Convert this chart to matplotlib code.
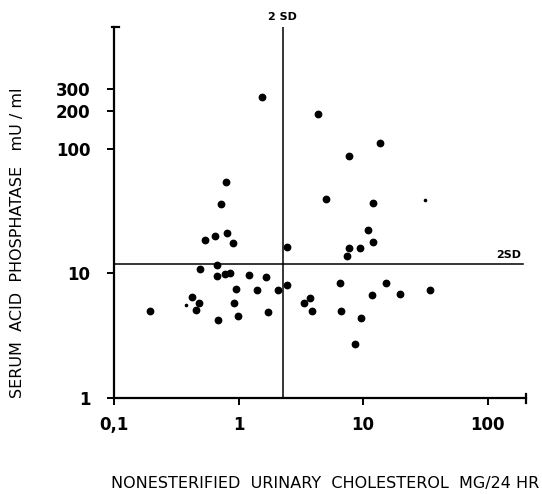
import matplotlib
matplotlib.use("Agg")
import matplotlib.pyplot as plt
from matplotlib.ticker import FixedLocator, FixedFormatter, NullLocator

# nonesterified urinary cholesterol (mg/24 hr) vs serum acid phosphatase (mU/ml)
chol = [0.195, 0.42, 0.484, 0.453, 0.49, 0.537, 0.643, 0.677, 0.675, 0.778,
        0.861, 0.684, 0.792, 0.729, 0.807, 0.91, 0.918, 0.953, 0.989, 1.21,
        1.41, 1.66, 1.72, 2.09, 1.53, 2.43, 2.43, 3.33, 3.74, 3.88,
        4.36, 5.06, 6.51, 6.67, 7.37, 7.65, 7.74, 8.65, 9.42, 9.6,
        10.9, 11.7, 12.05, 12.05, 13.6, 15.3, 19.9, 34.4]
acp = [5.01, 6.4, 5.78, 5.08, 10.8, 18.5, 20.0, 11.7, 9.46, 9.87,
       10.05, 4.2, 53.7, 36.2, 21.0, 17.5, 5.78, 7.48, 4.52, 9.64,
       7.3, 9.29, 4.92, 7.41, 258, 16.2, 8.03, 5.75, 6.3, 5.01,
       189, 39.8, 8.41, 4.99, 13.7, 87.3, 16.0, 2.73, 15.96, 4.38,
       22.2, 6.66, 36.6, 17.9, 111, 8.31, 6.82, 7.3]

# tiny specks printed in the original
speck_chol = [0.378, 31.3]
speck_acp = [5.62, 38.7]

# 2 SD limits
chol_2sd = 2.27
acp_2sd = 11.9

xticks = [0.1, 1, 10, 100]
xticklabels = ["0,1", "1", "10", "100"]
yticks = [1, 10, 100, 200, 300]
yticklabels = ["1", "10", "100", "200", "300"]

fig = plt.figure(figsize=(5.42, 4.94), dpi=100)
ax = fig.add_axes([0.2103, 0.1943, 0.760, 0.751])

ax.plot(chol, acp, "o", color="black", markersize=4.6, linestyle="none")
ax.plot(speck_chol, speck_acp, "o", color="black", markersize=1.6, linestyle="none")

ax.set_xscale("log"); ax.set_yscale("log")
ax.set_xlim(0.1, 203); ax.set_ylim(1, 944)

ax.axvline(chol_2sd, color="black", lw=1.1)
ax.axhline(acp_2sd, xmax=0.993, color="black", lw=1.1)
ax.text(chol_2sd, 1030, "2 SD", ha="center", va="bottom", fontsize=8, fontweight="bold")
ax.text(185, acp_2sd * 1.07, "2SD", ha="right", va="bottom", fontsize=8, fontweight="bold")

for s in ("top", "right"):
    ax.spines[s].set_visible(False)
for s in ("left", "bottom"):
    ax.spines[s].set_linewidth(1.6)

# end caps on the axes
ax.plot([1, 1], [-0.013, 0.011], color="black", lw=1.6,
        transform=ax.transAxes, clip_on=False)
ax.plot([-0.006, 0.013], [1, 1], color="black", lw=1.6,
        transform=ax.transAxes, clip_on=False)

ax.xaxis.set_major_locator(FixedLocator(xticks))
ax.xaxis.set_major_formatter(FixedFormatter(xticklabels))
ax.xaxis.set_minor_locator(NullLocator())
ax.yaxis.set_major_locator(FixedLocator(yticks))
ax.yaxis.set_major_formatter(FixedFormatter(yticklabels))
ax.yaxis.set_minor_locator(NullLocator())
ax.tick_params(axis="x", direction="out", length=5, width=1.4, pad=8, labelsize=12)
ax.tick_params(axis="y", direction="out", length=5, width=1.4, pad=12, labelsize=12)
for lab in ax.get_xticklabels() + ax.get_yticklabels():
    lab.set_fontweight("bold")

fig.text(0.033, 0.508, "SERUM  ACID  PHOSPHATASE   mU / ml", rotation=90,
         ha="center", va="center", fontsize=11.5)
fig.text(0.600, 0.022, "NONESTERIFIED  URINARY  CHOLESTEROL  MG/24 HR",
         ha="center", va="center", fontsize=11.5)

fig.savefig("out.png", dpi=100)
